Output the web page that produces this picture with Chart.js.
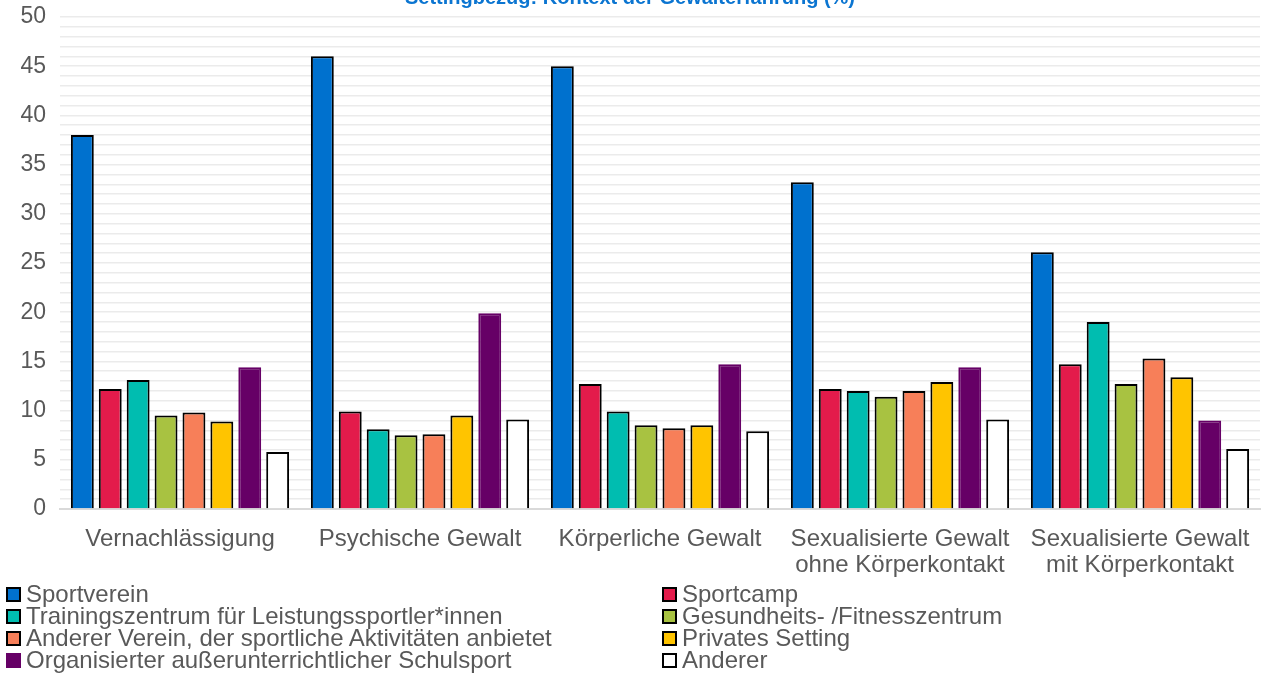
<!DOCTYPE html>
<html>
<head>
<meta charset="utf-8">
<script src="https://cdn.jsdelivr.net/npm/chart.js@4"></script>
<style>
  body { margin: 0; background: #fff; }
  #wrap { position: relative; width: 1262px; height: 677px; overflow: hidden; }
  #barChart { position: absolute; left: 0; top: -17px; }
  #legend {
    position: absolute; left: 6px; top: 583px; width: 1256px;
    display: grid; grid-template-columns: 656px 600px;
    font-family: "Liberation Sans", Arial, sans-serif; font-size: 24px;
    line-height: 22px; color: #595959;
  }
  #legend div { display: flex; align-items: center; white-space: nowrap; height: 22px; }
  #legend span { display: inline-block; width: 11px; height: 11px; border: 2px solid #000; margin-right: 5px; flex: none; }
</style>
</head>
<body>
<div id="wrap">
  <canvas id="barChart" width="1262" height="607"></canvas>
  <div id="legend"></div>
</div>
<script>
const categories = [
    'Vernachlässigung',
    'Psychische Gewalt',
    'Körperliche Gewalt',
    ['Sexualisierte Gewalt', 'ohne Körperkontakt'],
    ['Sexualisierte Gewalt', 'mit Körperkontakt'],
]
const seriesNames = [
    'Sportverein',
    'Sportcamp',
    'Trainingszentrum für Leistungssportler*innen',
    'Gesundheits- /Fitnesszentrum',
    'Anderer Verein, der sportliche Aktivitäten anbietet',
    'Privates Setting',
    'Organisierter außerunterrichtlicher Schulsport',
    'Anderer',
]
const sportverein = [38.0, 46.0, 45.0, 33.2, 26.1]
const sportcamp = [12.2, 9.9, 12.7, 12.2, 14.7]
const trainingszentrum = [13.1, 8.1, 9.9, 12.0, 19.0]
const fitnesszentrum = [9.5, 7.5, 8.5, 11.4, 12.7]
const andererVerein = [9.8, 7.6, 8.2, 12.0, 15.3]
const privates = [8.9, 9.5, 8.5, 12.9, 13.4]
const schulsport = [14.4, 19.9, 14.7, 14.4, 9.0]
const anderer = [5.8, 9.1, 7.9, 9.1, 6.1]
const yTicks = [0, 5, 10, 15, 20, 25, 30, 35, 40, 45, 50]

const values = [sportverein, sportcamp, trainingszentrum, fitnesszentrum, andererVerein, privates, schulsport, anderer]
const colors = ['#0071CE', '#E31B4B', '#00BDB0', '#A8C241', '#F77F59', '#FFC400', '#660066', '#FFFFFF']
const borders = ['#000', '#000', '#000', '#000', '#000', '#000', '#660066', '#000']

const bar = document.querySelector('#barChart')
new Chart(bar, {
    type: 'bar',
    data: {
        labels: categories,
        datasets: values.map((v, i) => ({
            label: seriesNames[i],
            data: v,
            backgroundColor: colors[i],
            borderColor: borders[i],
            borderWidth: 2,
            borderSkipped: 'bottom',
            categoryPercentage: 0.93,
            barPercentage: 0.82,
        }))
    },
    options: {
        responsive: false,
        animation: false,
        layout: { padding: { left: 0, right: 2, top: 0, bottom: 4 } },
        plugins: {
            legend: { display: false },
            tooltip: { enabled: false },
            title: {
                display: true,
                text: 'Settingbezug: Kontext der Gewalterfahrung (%)',
                color: '#0B75D1',
                font: { family: 'Liberation Sans', size: 20, weight: 'bold' },
                padding: { top: 3, bottom: 7 },
            },
        },
        scales: {
            x: {
                afterFit: s => { s.paddingRight = 2; s.height = 77 },
                grid: { display: false, drawTicks: false },
                border: { color: '#D9D9D9', width: 2 },
                ticks: {
                    color: '#595959',
                    font: { family: 'Liberation Sans', size: 24, lineHeight: 1.1 },
                    padding: 17,
                    maxRotation: 0,
                    autoSkip: false,
                },
            },
            y: {
                min: 0,
                max: 50,
                afterFit: s => { s.width = 60 },
                border: { display: false },
                grid: { color: '#EBEBEB', lineWidth: 1.5, drawTicks: false },
                ticks: {
                    stepSize: 1,
                    autoSkip: false,
                    color: '#595959',
                    font: { family: 'Liberation Sans', size: 23 },
                    padding: 14,
                    callback: v => yTicks.includes(v) ? v : '',
                },
            },
        },
    }
})

// legend in two columns, same order as the datasets
const legend = document.querySelector('#legend')
seriesNames.forEach((name, i) => {
    const item = document.createElement('div')
    const sw = document.createElement('span')
    sw.style.background = colors[i]
    sw.style.borderColor = borders[i]
    item.appendChild(sw)
    item.appendChild(document.createTextNode(name))
    legend.appendChild(item)
})
</script>
</body>
</html>
